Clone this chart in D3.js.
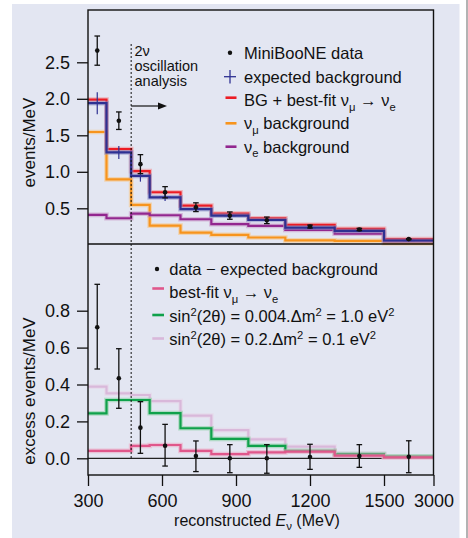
<!DOCTYPE html>
<html>
<head>
<meta charset="utf-8">
<script src="https://cdn.jsdelivr.net/npm/d3@7"></script>
<style>
  html, body { margin: 0; padding: 0; background: #ffffff; }
  svg { display: block; }
  text { font-family: "Liberation Sans", Arial, sans-serif; fill: #111; }
</style>
</head>
<body>
<svg id="chart" width="468" height="538"></svg>
<script>
// ---------------- data ----------------
const binEdges = [300, 375, 475, 550, 675, 800, 950, 1100, 1300, 1500, 3000];
const xTickValues = [300, 600, 900, 1200, 1500, 3000];
const topTickValues = [0.5, 1.0, 1.5, 2.0, 2.5];
const bottomTickValues = [0.0, 0.2, 0.4, 0.6, 0.8];

// top panel (events/MeV)
const dataTop      = [2.66, 1.70, 1.105, 0.72, 0.515, 0.40, 0.335, 0.25, 0.21, 0.078];
const dataTopErr   = [0.20, 0.12, 0.13, 0.077, 0.06, 0.05, 0.045, 0.02, 0.015, 0.006];
const bgExpected   = [1.94, 1.265, 0.945, 0.65, 0.49, 0.40, 0.34, 0.236, 0.19, 0.059];
const bgExpectedErr= [0.15, 0.09, 0.08, 0.05, 0.03, 0.03, 0.03, 0.015, 0.015, 0.005];
const bgPlusFit    = [1.99, 1.31, 1.01, 0.72, 0.536, 0.427, 0.364, 0.273, 0.218, 0.078];
const numuBg       = [1.545, 0.896, 0.546, 0.263, 0.168, 0.136, 0.10, 0.06, 0.055, 0.023];
const nueBg        = [0.41, 0.364, 0.427, 0.405, 0.35, 0.284, 0.259, 0.205, 0.154, 0.05];

// bottom panel (excess events/MeV)
const excess       = [0.71, 0.434, 0.166, 0.068, 0.0125, 0.0, 0.0, 0.007, 0.012, 0.008];
const excessHi     = [0.943, 0.594, 0.307, 0.184, 0.094, 0.074, 0.074, 0.076, 0.074, 0.095];
const excessLo     = [0.484, 0.271, 0.027, -0.042, -0.072, -0.078, -0.081, -0.06, -0.049, -0.078];
const bestFit      = [0.04, 0.04, 0.067, 0.072, 0.04, 0.023, 0.032, 0.036, 0.014, 0.005];
const fitSmallMix  = [0.244, 0.316, 0.316, 0.245, 0.163, 0.105, 0.067, 0.041, 0.023, 0.01];
const fitLargeMix  = [0.388, 0.352, 0.343, 0.31, 0.231, 0.153, 0.103, 0.063, 0.027, 0.009];

// ---------------- layout ----------------
const svg = d3.select("#chart");
const L = 88, R = 433.5, T = 10, MID = 244, B = 475;

svg.append("rect").attr("x", 12).attr("y", 4).attr("width", 447.5).attr("height", 534)
  .attr("fill", "#e3e6f2");
svg.append("line").attr("x1", 467).attr("x2", 467).attr("y1", 0).attr("y2", 538)
  .attr("stroke", "#9a9a9a").attr("stroke-width", 1.5);

const x = d3.scaleLinear().domain([300, 1500, 3000]).range([L, 384, R]);
const yTop = d3.scaleLinear().domain([0, 2.5]).range([244.8, 62.3]);
const yBot = d3.scaleLinear().domain([0, 0.8]).range([458.3, 310.7]);

const centers = binEdges.slice(0, -1).map((e, i) => (e + binEdges[i + 1]) / 2);

function stepPts(vals) {
  const pts = vals.map((v, i) => [binEdges[i], v]);
  pts.push([binEdges[binEdges.length - 1], vals[vals.length - 1]]);
  return pts;
}
function drawHist(g, vals, y, color, halo, w) {
  const line = d3.line().x(d => x(d[0])).y(d => y(d[1])).curve(d3.curveStepAfter);
  const pts = stepPts(vals);
  g.append("path").attr("d", line(pts)).attr("fill", "none")
    .attr("stroke", halo).attr("stroke-width", w + 2.5).attr("stroke-opacity", 0.55);
  g.append("path").attr("d", line(pts)).attr("fill", "none")
    .attr("stroke", color).attr("stroke-width", w);
}
function drawErr(g, xs, ys, lo, hi, y, color, cap, r) {
  xs.forEach((c, i) => {
    const cx = x(c);
    g.append("line").attr("x1", cx).attr("x2", cx).attr("y1", y(lo[i])).attr("y2", y(hi[i]))
      .attr("stroke", color).attr("stroke-width", 1.3);
    [lo[i], hi[i]].forEach(v => g.append("line").attr("x1", cx - cap).attr("x2", cx + cap)
      .attr("y1", y(v)).attr("y2", y(v)).attr("stroke", color).attr("stroke-width", 1.3));
    if (r) g.append("circle").attr("cx", cx).attr("cy", y(ys[i])).attr("r", r).attr("fill", color);
  });
}

// ---------------- top panel ----------------
const gTop = svg.append("g");
drawHist(gTop, numuBg, yTop, "#f7941d", "#f9c27e", 2.2);
drawHist(gTop, nueBg, yTop, "#92278f", "#c994c6", 2.2);
drawHist(gTop, bgPlusFit, yTop, "#ec1c24", "#f28b8f", 2.2);
drawHist(gTop, bgExpected, yTop, "#2e3192", "#8a8cc4", 2.2);

// expected background crosses
centers.forEach((c, i) => {
  const cx = x(c);
  gTop.append("line").attr("x1", cx).attr("x2", cx)
    .attr("y1", yTop(bgExpected[i] - bgExpectedErr[i])).attr("y2", yTop(bgExpected[i] + bgExpectedErr[i]))
    .attr("stroke", "#2e3192").attr("stroke-width", 1.2);
  gTop.append("line").attr("x1", cx - 6).attr("x2", cx + 6)
    .attr("y1", yTop(bgExpected[i])).attr("y2", yTop(bgExpected[i]))
    .attr("stroke", "#2e3192").attr("stroke-width", 1.2);
});
drawErr(gTop, centers, dataTop, dataTop.map((v, i) => v - dataTopErr[i]),
  dataTop.map((v, i) => v + dataTopErr[i]), yTop, "#111", 2.8, 2.3);

// ---------------- bottom panel ----------------
const gBot = svg.append("g");
gBot.append("line").attr("x1", L).attr("x2", R).attr("y1", yBot(0)).attr("y2", yBot(0))
  .attr("stroke", "#222").attr("stroke-width", 1.2);
drawHist(gBot, fitLargeMix, yBot, "#d9b8da", "#e8d3e8", 2.2);
drawHist(gBot, fitSmallMix, yBot, "#0fa14b", "#86cfa0", 2.2);
drawHist(gBot, bestFit, yBot, "#e0578b", "#eea2bf", 2.2);
drawErr(gBot, centers, excess, excessLo, excessHi, yBot, "#111", 2.8, 2.3);

// ---------------- frames ----------------
svg.append("rect").attr("x", L).attr("y", T).attr("width", R - L).attr("height", B - T)
  .attr("fill", "none").attr("stroke", "#111").attr("stroke-width", 1.4);
svg.append("line").attr("x1", L).attr("x2", R).attr("y1", MID).attr("y2", MID)
  .attr("stroke", "#111").attr("stroke-width", 1.4);

// dotted analysis threshold
svg.append("line").attr("x1", x(475)).attr("x2", x(475)).attr("y1", 44).attr("y2", yBot(0))
  .attr("stroke", "#111").attr("stroke-width", 1).attr("stroke-dasharray", "2,2");
svg.append("line").attr("x1", x(475)).attr("x2", 160).attr("y1", 106).attr("y2", 106)
  .attr("stroke", "#111").attr("stroke-width", 1.2);
svg.append("path").attr("d", "M158,102.5 L167,106 L158,109.5 Z").attr("fill", "#111");
const ann = svg.append("text").attr("x", 134.5).attr("font-size", 14.5);
["2ν", "oscillation", "analysis"].forEach((t, i) =>
  ann.append("tspan").attr("x", 134.5).attr("y", 55.5 + i * 15).text(t));

// ---------------- axes ----------------
function styleAxis(g) {
  g.select(".domain").remove();
  g.selectAll(".tick line").attr("stroke", "#111").attr("stroke-width", 1.3);
  g.selectAll(".tick text").attr("font-size", 18).attr("fill", "#111")
    .attr("font-family", "Liberation Sans, Arial, sans-serif");
}
svg.append("g").attr("transform", `translate(${L},0)`)
  .call(d3.axisLeft(yTop).tickValues(topTickValues).tickFormat(d3.format(".1f")).tickSize(11).tickPadding(7))
  .call(styleAxis);
svg.append("g").attr("transform", `translate(${L},0)`)
  .call(d3.axisLeft(yBot).tickValues(bottomTickValues).tickFormat(d3.format(".1f")).tickSize(11).tickPadding(7))
  .call(styleAxis);
svg.append("g").attr("transform", `translate(0,${B})`)
  .call(d3.axisBottom(x).tickValues(xTickValues).tickFormat(d3.format("d")).tickSize(11).tickPadding(8))
  .call(styleAxis);

svg.append("text").attr("transform", "translate(35,142.5) rotate(-90)")
  .attr("text-anchor", "middle").attr("font-size", 17).text("events/MeV");
svg.append("text").attr("transform", "translate(35,391) rotate(-90)")
  .attr("text-anchor", "middle").attr("font-size", 17).text("excess events/MeV");

const xl = svg.append("text").attr("x", 257).attr("y", 526).attr("text-anchor", "middle").attr("font-size", 16);
xl.append("tspan").text("reconstructed ");
xl.append("tspan").attr("font-style", "italic").text("E");
xl.append("tspan").attr("font-size", 11.5).attr("dy", 4).text("ν");
xl.append("tspan").attr("dy", -4).text(" (MeV)");

// ---------------- legends ----------------
function rich(g, xPos, yPos, parts, fs) {
  const t = g.append("text").attr("x", xPos).attr("y", yPos).attr("font-size", fs);
  let off = 0;
  parts.forEach(p => {
    let target = 0;
    if (p.sub) target = 4.5;
    if (p.sup) target = -6;
    const ts = t.append("tspan").attr("dy", target - off).text(p.t);
    if (p.sub || p.sup) ts.attr("font-size", fs * 0.68);
    off = target;
  });
  return t;
}
const lg = svg.append("g");
const lx = 244, fsL = 16.5;
lg.append("circle").attr("cx", 230).attr("cy", 52.7).attr("r", 2.2).attr("fill", "#111");
rich(lg, lx, 59.3, [{t: "MiniBooNE data"}], fsL);
lg.append("line").attr("x1", 230).attr("x2", 230).attr("y1", 70).attr("y2", 83.5).attr("stroke", "#2e3192").attr("stroke-width", 1.3);
lg.append("line").attr("x1", 224).attr("x2", 236).attr("y1", 76.7).attr("y2", 76.7).attr("stroke", "#2e3192").attr("stroke-width", 1.3);
rich(lg, lx, 82.7, [{t: "expected background"}], fsL);
[["#ec1c24", 97.7], ["#f7941d", 123.3], ["#92278f", 146.7]].forEach(([c, yy]) =>
  lg.append("line").attr("x1", 225.5).attr("x2", 236.5).attr("y1", yy).attr("y2", yy).attr("stroke", c).attr("stroke-width", 2.6));
rich(lg, lx, 106, [{t: "BG + best-fit ν"}, {t: "μ", sub: true}, {t: " → ν"}, {t: "e", sub: true}], fsL);
rich(lg, lx, 129.3, [{t: "ν"}, {t: "μ", sub: true}, {t: " background"}], fsL);
rich(lg, lx, 152.7, [{t: "ν"}, {t: "e", sub: true}, {t: " background"}], fsL);

const bx = 169.3;
lg.append("circle").attr("cx", 157).attr("cy", 269).attr("r", 2.2).attr("fill", "#111");
rich(lg, bx, 274.5, [{t: "data − expected background"}], fsL);
[["#e0578b", 288.5], ["#0fa14b", 315], ["#d9b8da", 338.5]].forEach(([c, yy]) =>
  lg.append("line").attr("x1", 152.3).attr("x2", 164).attr("y1", yy).attr("y2", yy).attr("stroke", c).attr("stroke-width", 2.6));
rich(lg, bx, 298.3, [{t: "best-fit ν"}, {t: "μ", sub: true}, {t: " → ν"}, {t: "e", sub: true}], fsL);
rich(lg, bx, 321.7, [{t: "sin"}, {t: "2", sup: true}, {t: "(2θ) = 0.004.Δm"}, {t: "2", sup: true}, {t: " = 1.0 eV"}, {t: "2", sup: true}], fsL);
rich(lg, bx, 345, [{t: "sin"}, {t: "2", sup: true}, {t: "(2θ) = 0.2.Δm"}, {t: "2", sup: true}, {t: " = 0.1 eV"}, {t: "2", sup: true}], fsL);
</script>
</body>
</html>
